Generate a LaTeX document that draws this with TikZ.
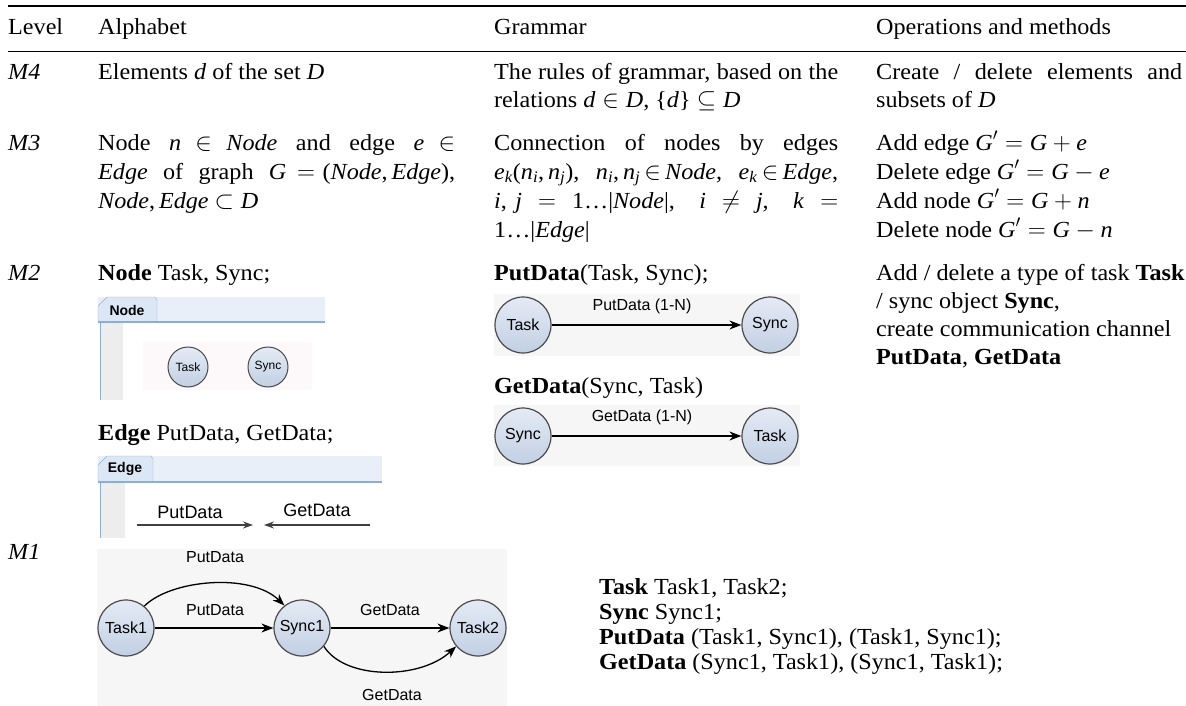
\documentclass[tikz,border=0pt]{standalone}
\usepackage{amsmath}
\usepackage{fontspec}
\setmainfont{Liberation Serif}[FakeStretch=1.05]
\newfontfamily\ssf{Liberation Sans}
\usetikzlibrary{arrows.meta}
\newcommand\bodyfont{\fontsize{23}{28}\selectfont}
\newcommand\mi[1]{\textit{#1}}
\definecolor{circtop}{HTML}{E4EBF5}
\definecolor{circbot}{HTML}{C2CFE3}
\definecolor{circdraw}{HTML}{4A4A4A}
\definecolor{tabfill}{HTML}{DCE7F5}
\definecolor{stripfill}{HTML}{E9EFF8}
\definecolor{tabline}{HTML}{8DAED3}
\definecolor{leftstrip}{HTML}{EDEDED}
\definecolor{pinkbg}{HTML}{FDF8FA}
\definecolor{shotbg}{HTML}{F6F6F6}
\tikzset{
  t/.style={anchor=base west,inner sep=0pt,font=\bodyfont},
  circ/.style={circle,draw=circdraw,line width=1.2pt,top color=circtop,bottom color=circbot,inner sep=0pt,minimum size=56pt,font=\ssf\fontsize{16}{16}\selectfont},
  smallcirc/.style={circ,minimum size=40pt,line width=1pt,font=\ssf\fontsize{12}{12}\selectfont},
  arr/.style={line width=1.3pt,-{Stealth[length=12pt,width=9pt]}},
  earr/.style={line width=1.2pt,black!75,-{Stealth[length=10pt,width=7pt]}},
  slab/.style={inner sep=0pt,font=\ssf\fontsize{16}{16}\selectfont},
  elab/.style={inner sep=0pt,font=\ssf\fontsize{18}{18}\selectfont},
  tablab/.style={inner sep=0pt,font=\ssf\bfseries\fontsize{14}{14}\selectfont},
}
\begin{document}
\begin{tikzpicture}[x=1pt,y=-1pt]
\useasboundingbox (0,0) rectangle (1186,706);
% rules
\draw[line width=1.8pt] (8,6) -- (1186,6);
\draw[line width=0.9pt] (8,51) -- (1186,51);
% header
\node[t] (hl) at (8,35) {Level};
\node[t] (ha) at (98,35) {Alphabet};
\node[t] (hg) at (494,35) {Grammar};
\node[t] (ho) at (876,35) {Operations and methods};
% M4
\node[t] (m4) at (8,80) {\mi{M4}};
\node[t] (m4a) at (98,80) {Elements \mi{d} of the set \mi{D}};
\node[t] (m4g1) at (494,80) {\makebox[344pt][s]{The rules of grammar, based on the}};
\node[t] (m4g2) at (494,108) {relations $\mi{d}\in\mi{D}$, \textbraceleft\mi{d}\textbraceright\ $\subseteq\mi{D}$};
\node[t] (m4o1) at (876,80) {\makebox[306pt][s]{Create / delete elements and}};
\node[t] (m4o2) at (876,108) {subsets of \mi{D}};
% M3
\node[t] (m3) at (8,150) {\mi{M3}};
\node[t] (m3a1) at (98,150) {\makebox[357pt][s]{Node \ $\mi{n}\in\mi{Node}$ \ and \ edge \ $\mi{e}\in$}};
\node[t] (m3a2) at (98,179) {\makebox[357pt][s]{\mi{Edge} \ of \ graph \ $\mi{G}=$ (\mi{Node},\,\mi{Edge}),}};
\node[t] (m3a3) at (98,208) {\mi{Node},\,\mi{Edge} $\subset\mi{D}$};
\node[t] (m3g1) at (494,150) {\makebox[344pt][s]{Connection of nodes by edges}};
\node[t] (m3g2) at (494,179) {\makebox[344pt][s]{$\mi{e}_{\mi{k}}$(\mi{n}\textsubscript{\mi{i}},\,\mi{n}\textsubscript{\mi{j}}), \mi{n}\textsubscript{\mi{i}},\,\mi{n}\textsubscript{\mi{j}}$\,\in\,$\mi{Node}, \mi{e}\textsubscript{\mi{k}}$\,\in\,$\mi{Edge},}};
\node[t] (m3g3) at (494,208) {\makebox[344pt][s]{\mi{i}, \mi{j} \ $=$ \ 1\ldots|\mi{Node}|, \ \ \mi{i} \ $\neq$ \ \mi{j}, \ \ \mi{k} \ $=$}};
\node[t] (m3g4) at (494,237) {1\ldots|\mi{Edge}|};
\node[t] (m3o1) at (876,150) {Add edge $\mi{G}'=\mi{G}+\mi{e}$};
\node[t] (m3o2) at (876,179) {Delete edge $\mi{G}'=\mi{G}-\mi{e}$};
\node[t] (m3o3) at (876,208) {Add node $\mi{G}'=\mi{G}+\mi{n}$};
\node[t] (m3o4) at (876,237) {Delete node $\mi{G}'=\mi{G}-\mi{n}$};
% M2 text
\node[t] (m2) at (8,280) {\mi{M2}};
\node[t] (m2a1) at (98,280) {\textbf{Node} Task, Sync;};
\node[t] (m2a2) at (98,440) {\textbf{Edge} PutData, GetData;};
\node[t] (m2g1) at (494,280) {\textbf{PutData}(Task, Sync);};
\node[t] (m2g2) at (494,393) {\textbf{GetData}(Sync, Task)};
\node[t] (m2o1) at (876,280) {Add / delete a type of task \textbf{Task}};
\node[t] (m2o2) at (876,308) {/ sync object \textbf{Sync},};
\node[t] (m2o3) at (876,336) {create communication channel};
\node[t] (m2o4) at (876,364) {\textbf{PutData}, \textbf{GetData}};
% Node panel
\fill[stripfill] (98,297) rectangle (325,322);
\fill[leftstrip] (100,322) rectangle (123,400);
\draw[tabline,line width=1pt] (100,322) -- (100,400);
\fill[pinkbg] (143,342) rectangle (312,390);
\draw[tabline,fill=tabfill] (98,322) -- (98,306) -- (107,297) -- (155,297) -- (157,300) -- (157,322);
\draw[tabline,line width=1.5pt] (98,322) -- (325,322);
\node[tablab] (ntab) at (127,310) {Node};
\node[smallcirc] (ntask) at (188,367) {Task};
\node[smallcirc] (nsync) at (268,367) {Sync};
% Edge panel
\fill[stripfill] (98,456) rectangle (382,482);
\fill[leftstrip] (100,482) rectangle (125,538);
\draw[tabline,line width=1pt] (100,482) -- (100,538);
\draw[tabline,fill=tabfill] (98,482) -- (98,465) -- (107,456) -- (151,456) -- (153,459) -- (153,482);
\draw[tabline,line width=1.5pt] (98,482) -- (382,482);
\node[tablab] (etab) at (125,469) {Edge};
\coordinate (ep1) at (137,525);
\coordinate (ep2) at (253,525);
\coordinate (eg1) at (370,525);
\coordinate (eg2) at (264,525);
\draw[earr] (ep1) -- (ep2);
\draw[earr] (eg1) -- (eg2);
\node[elab] (eplab) at (190,512) {PutData};
\node[elab] (eglab) at (317,510) {GetData};
% Grammar diagrams
\fill[shotbg] (494,294) rectangle (800,356);
\fill[shotbg] (494,405) rectangle (800,466);
\node[circ] (gt1) at (523,325) {Task};
\node[circ] (gs1) at (770,325) {Sync};
\draw[arr] (gt1) -- (gs1);
\node[slab] (gl1) at (642,306) {PutData (1-N)};
\node[circ] (gs2) at (523,436) {Sync};
\node[circ] (gt2) at (770,436) {Task};
\draw[arr] (gs2) -- (gt2);
\node[slab] (gl2) at (642,417) {GetData (1-N)};
% M1
\node[t] (m1) at (8,559) {\mi{M1}};
\fill[shotbg] (97,549) rectangle (507,706);
\node[circ] (t1) at (126,628) {Task1};
\node[circ] (s1) at (302,628) {Sync1};
\node[circ] (t2) at (478,628) {Task2};
\draw[arr] (t1) -- (s1);
\draw[arr] (s1) -- (t2);
\draw[arr] (t1.50) .. controls (170,580) and (250,572) .. (s1.128);
\draw[arr] (s1.-40) .. controls (345,680) and (420,680) .. (t2.220);
\node[slab] (l1) at (215,557) {PutData};
\node[slab] (l2) at (215,610) {PutData};
\node[slab] (l3) at (390,610) {GetData};
\node[slab] (l4) at (392,695) {GetData};
\node[t] (m1t1) at (599,594) {\textbf{Task} Task1, Task2;};
\node[t] (m1t2) at (599,619) {\textbf{Sync} Sync1;};
\node[t] (m1t3) at (599,644) {\textbf{PutData} (Task1, Sync1), (Task1, Sync1);};
\node[t] (m1t4) at (599,669) {\textbf{GetData} (Sync1, Task1), (Sync1, Task1);};
\end{tikzpicture}
\end{document}
